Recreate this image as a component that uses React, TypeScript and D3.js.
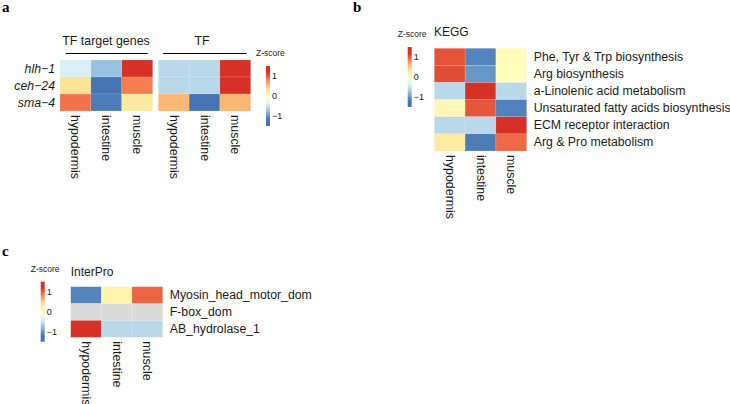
import React from 'react';
import * as d3 from 'd3';

const tissues = ['hypodermis', 'intestine', 'muscle'];

// panel a
const tfGenes = ['hlh−1', 'ceh−24', 'sma−4'];
const targetZ = [
  [-0.42, -0.74, 1.16],
  [0.36, -1.16, 0.84],
  [0.88, -1.12, 0.26],
];
const tfZ = [
  [-0.58, -0.58, 1.16],
  [-0.58, -0.58, 1.16],
  [0.58, -1.16, 0.58],
];

// panel b
const keggTerms = [
  'Phe, Tyr & Trp biosynthesis',
  'Arg biosynthesis',
  'a-Linolenic acid metabolism',
  'Unsaturated fatty acids biosynthesis',
  'ECM receptor interaction',
  'Arg & Pro metabolism',
];
const keggZ = [
  [1.02, -1.08, 0.05],
  [1.04, -0.98, 0.03],
  [-0.58, 1.16, -0.58],
  [0.1, 1.0, -1.1],
  [-0.58, -0.58, 1.16],
  [0.24, -1.12, 0.92],
];

// panel c
const interproTerms = ['Myosin_head_motor_dom', 'F-box_dom', 'AB_hydrolase_1'];
const interproZ = [
  [-1.08, 0.14, 0.94],
  [null, null, null],
  [1.16, -0.58, -0.58],
];

const legendTicks = [1, 0, -1];
const palette = ['#4575B4', '#91BFDB', '#E0F3F8', '#FFFFBF', '#FEE090', '#FC8D59', '#D73027'];
const zMax = 1.16;

const color = d3
  .scaleLinear<string>()
  .domain(d3.range(7).map(i => -zMax + (i * 2 * zMax) / 6))
  .range(palette)
  .clamp(true);

const FONT = 'Liberation Sans, Helvetica, Arial, sans-serif';

type HeatProps = {
  x: number;
  y: number;
  w: number;
  h: number;
  values: (number | null)[][];
  rows?: string[];
  rowSide?: 'left' | 'right';
  italicRows?: boolean;
  rowSize?: number;
};

const Heatmap = ({ x, y, w, h, values, rows, rowSide = 'right', italicRows, rowSize = 12.3 }: HeatProps) => {
  const xs = d3.scaleBand().domain(tissues).range([x, x + w]);
  const ys = d3.scaleBand().domain(d3.range(values.length).map(String)).range([y, y + h]);
  return (
    <g>
      {values.map((row, i) =>
        row.map((v, j) => (
          <rect
            key={`${i}-${j}`}
            x={xs(tissues[j])}
            y={ys(String(i))}
            width={xs.bandwidth()}
            height={ys.bandwidth()}
            fill={v == null ? '#DADADA' : color(v)}
            stroke="#ffffff"
            strokeOpacity={0.25}
            strokeWidth={0.5}
          />
        ))
      )}
      {rows &&
        rows.map((r, i) => (
          <text
            key={r}
            x={rowSide === 'right' ? x + w + 7 : x - 5}
            y={(ys(String(i)) as number) + ys.bandwidth() / 2}
            dominantBaseline="central"
            textAnchor={rowSide === 'right' ? 'start' : 'end'}
            fontSize={rowSize}
            fontStyle={italicRows ? 'italic' : 'normal'}
            fill="#1a1a1a"
          >
            {r}
          </text>
        ))}
      {tissues.map(t => {
        const cx = (xs(t) as number) + xs.bandwidth() / 2;
        const cy = y + h + 4;
        return (
          <text
            key={t}
            transform={`translate(${cx},${cy}) rotate(90)`}
            dominantBaseline="central"
            fontSize={12.4}
            fill="#1a1a1a"
          >
            {t}
          </text>
        );
      })}
    </g>
  );
};

const Legend = ({ x, y, id }: { x: number; y: number; id: string }) => {
  const barH = 60;
  const ly = d3.scaleLinear().domain([-1.5, 1.5]).range([y + barH, y]);
  const stops = d3.range(0, 1.0001, 0.05);
  return (
    <g>
      <defs>
        <linearGradient id={id} x1="0" y1="1" x2="0" y2="0">
          {stops.map(s => (
            <stop key={s} offset={s} stopColor={color(-1.5 + 3 * s)} />
          ))}
        </linearGradient>
      </defs>
      <text x={x - 10} y={y - 10} fontSize={8.5} fill="#1a1a1a">
        Z-score
      </text>
      <rect x={x} y={y} width={4} height={barH} fill={`url(#${id})`} />
      {legendTicks.map(t => (
        <text key={t} x={x + 6} y={ly(t)} dominantBaseline="central" fontSize={9} fill="#1a1a1a">
          {t < 0 ? `−${Math.abs(t)}` : t}
        </text>
      ))}
    </g>
  );
};

const PanelLetter = ({ x, y, t }: { x: number; y: number; t: string }) => (
  <text x={x} y={y} fontSize={15} fontWeight="bold" fontFamily="Liberation Serif, Times New Roman, serif" fill="#000">
    {t}
  </text>
);

export default function App() {
  return (
    <svg
      width={730}
      height={404}
      fontFamily={FONT}
      style={{ position: 'absolute', left: 0, top: 0, background: '#fff', fontFamily: FONT }}
    >
      <PanelLetter x={2} y={12} t="a" />
      <PanelLetter x={353} y={12} t="b" />
      <PanelLetter x={2} y={256} t="c" />

      {/* a */}
      <text x={106} y={45} textAnchor="middle" fontSize={12.4} fill="#1a1a1a">
        TF target genes
      </text>
      <text x={202} y={45} textAnchor="middle" fontSize={12.4} fill="#1a1a1a">
        TF
      </text>
      <line x1={65.7} x2={147.7} y1={53.5} y2={53.5} stroke="#000" strokeWidth={1} />
      <line x1={163} x2={246.7} y1={53.5} y2={53.5} stroke="#000" strokeWidth={1} />
      <Heatmap x={60} y={60} w={92.7} h={51} values={targetZ} rows={tfGenes} rowSide="left" italicRows />
      <Heatmap x={158.3} y={60} w={92.4} h={51} values={tfZ} />
      <Legend x={266} y={66} id="lg-a" />

      {/* b */}
      <text x={434} y={35.5} fontSize={12} fill="#1a1a1a">
        KEGG
      </text>
      <Heatmap x={434.3} y={48.3} w={92.4} h={102.7} values={keggZ} rows={keggTerms} rowSize={12.3} />
      <Legend x={407.7} y={47} id="lg-b" />

      {/* c */}
      <text x={70.7} y={275.5} fontSize={12} fill="#1a1a1a">
        InterPro
      </text>
      <Heatmap x={70.7} y={286.7} w={92} h={50.6} values={interproZ} rows={interproTerms} />
      <Legend x={40.7} y={281.7} id="lg-c" />
    </svg>
  );
}
